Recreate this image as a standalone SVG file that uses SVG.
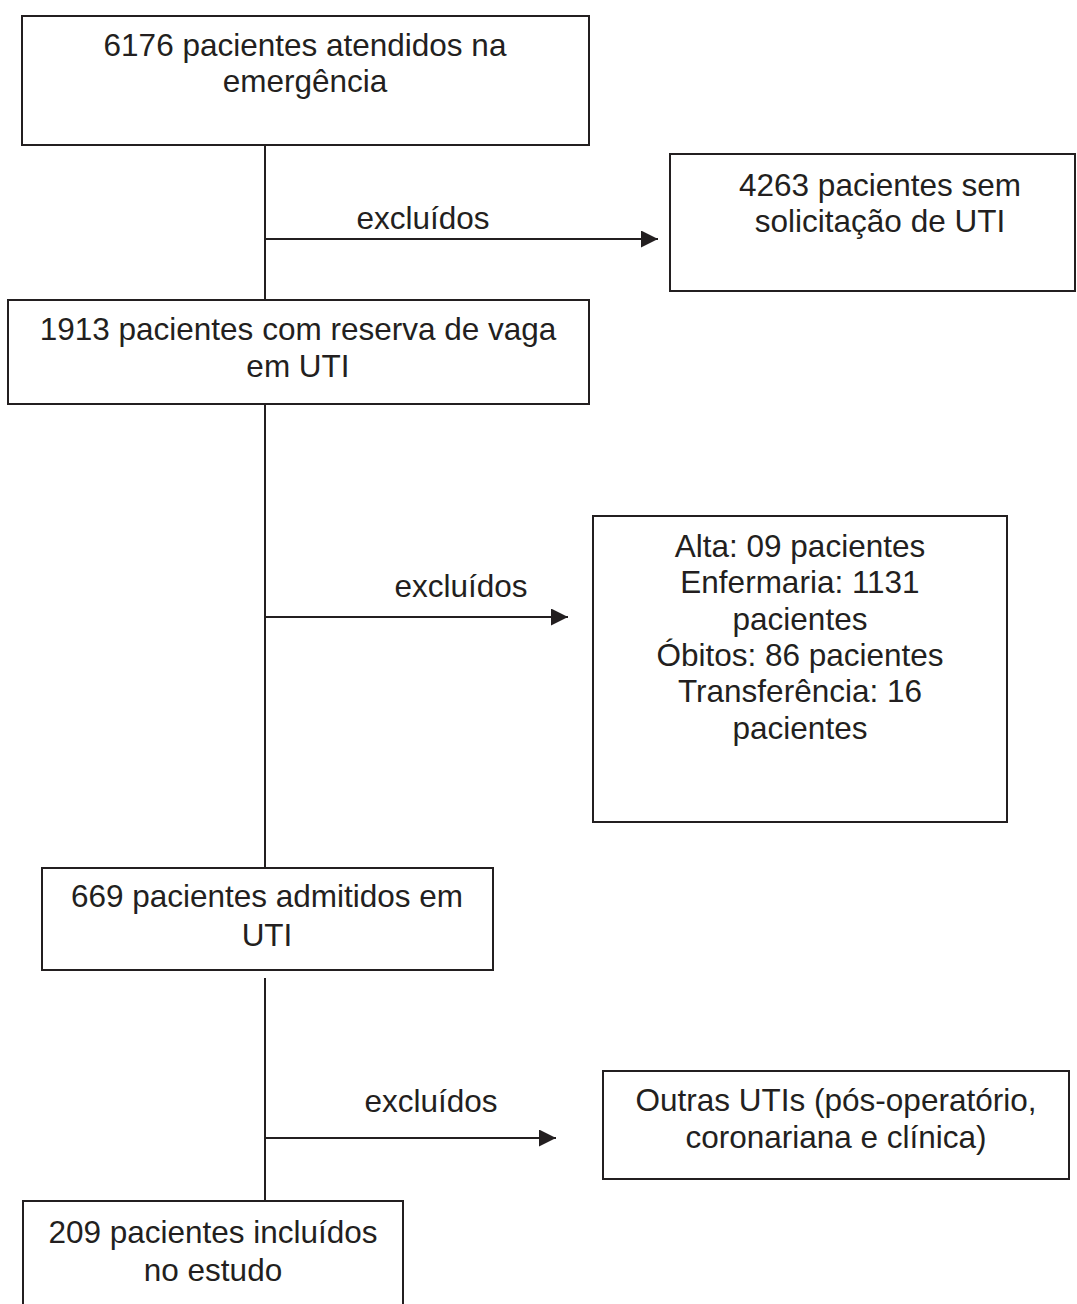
<svg xmlns="http://www.w3.org/2000/svg" width="1077" height="1304" viewBox="0 0 1077 1304">
<style>
.box{fill:#fff;stroke:#231f20;stroke-width:2}
.t{font-family:"Liberation Sans",Arial,sans-serif;font-size:31.5px;fill:#231f20;text-anchor:middle}
.c{stroke:#231f20;stroke-width:2;fill:none}
</style>
<defs>
<marker id="ah" markerUnits="userSpaceOnUse" markerWidth="17" markerHeight="17" refX="17" refY="8.5" orient="auto">
<path d="M0,0 L17,8.5 L0,17 z" fill="#231f20"/>
</marker>
</defs>
<rect width="1077" height="1304" fill="#fff"/>
<g id="connectors">
<line class="c" x1="265" y1="145" x2="265" y2="300"/>
<line class="c" x1="265" y1="239" x2="658" y2="239" marker-end="url(#ah)"/>
<text class="t" x="423" y="229">excluídos</text>
<line class="c" x1="265" y1="404" x2="265" y2="868"/>
<line class="c" x1="265" y1="617" x2="568" y2="617" marker-end="url(#ah)"/>
<text class="t" x="461" y="597">excluídos</text>
<line class="c" x1="265" y1="978" x2="265" y2="1201"/>
<line class="c" x1="265" y1="1138" x2="556" y2="1138" marker-end="url(#ah)"/>
<text class="t" x="431" y="1112">excluídos</text>
</g>
<g id="n1">
<rect class="box" x="22" y="16" width="567" height="129"/>
<text class="t" x="305" y="56"><tspan x="305">6176 pacientes atendidos na</tspan><tspan x="305" dy="36">emergência</tspan></text>
</g>
<g id="n2">
<rect class="box" x="670" y="154" width="405" height="137"/>
<text class="t" x="880" y="196"><tspan x="880">4263 pacientes sem</tspan><tspan x="880" dy="36">solicitação de UTI</tspan></text>
</g>
<g id="n3">
<rect class="box" x="8" y="300" width="581" height="104"/>
<text class="t" x="298" y="340"><tspan x="298">1913 pacientes com reserva de vaga</tspan><tspan x="298" dy="37">em UTI</tspan></text>
</g>
<g id="n4">
<rect class="box" x="593" y="516" width="414" height="306"/>
<text class="t" x="800" y="557"><tspan x="800">Alta: 09 pacientes</tspan><tspan x="800" dy="36.3">Enfermaria: 1131</tspan><tspan x="800" dy="36.3">pacientes</tspan><tspan x="800" dy="36.3">Óbitos: 86 pacientes</tspan><tspan x="800" dy="36.3">Transferência: 16</tspan><tspan x="800" dy="36.3">pacientes</tspan></text>
</g>
<g id="n5">
<rect class="box" x="42" y="868" width="451" height="102"/>
<text class="t" x="267" y="907"><tspan x="267">669 pacientes admitidos em</tspan><tspan x="267" dy="39">UTI</tspan></text>
</g>
<g id="n6">
<rect class="box" x="603" y="1071" width="466" height="108"/>
<text class="t" x="836" y="1111"><tspan x="836">Outras UTIs (pós-operatório,</tspan><tspan x="836" dy="37">coronariana e clínica)</tspan></text>
</g>
<g id="n7">
<rect class="box" x="23" y="1201" width="380" height="120"/>
<text class="t" x="213" y="1243"><tspan x="213">209 pacientes incluídos</tspan><tspan x="213" dy="38">no estudo</tspan></text>
</g>
</svg>
